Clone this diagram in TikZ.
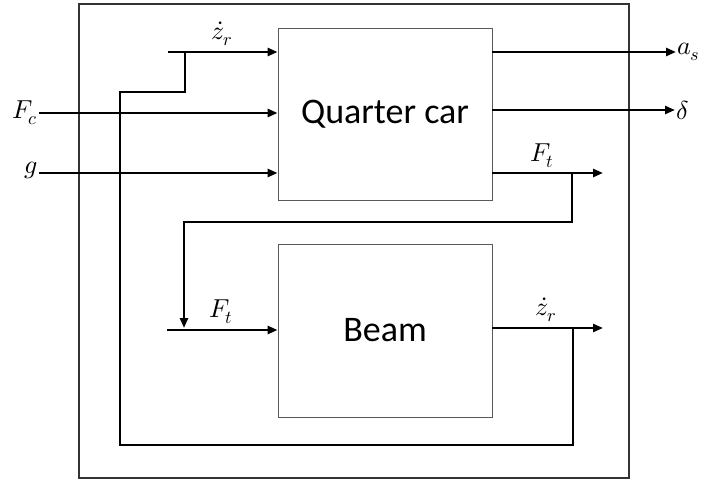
\documentclass[tikz,border=0pt]{standalone}
\usepackage{fontspec}
\usepackage{unicode-math}
\setmathfont{Latin Modern Math}
\setsansfont{Carlito}
\usetikzlibrary{arrows.meta}
\begin{document}
\begin{tikzpicture}[x=1pt,y=-1pt,
  wire/.style={line width=2.6pt},
  arr/.style={wire,-{Triangle[length=10pt,width=8pt]}},
  block/.style={draw=black!65, line width=0.8pt, minimum width=214pt, inner sep=0pt,
    font=\sffamily\fontsize{36}{42}\selectfont},
  lab/.style={font=\fontsize{26}{30}\selectfont, inner sep=1pt}]
\useasboundingbox (0,0) rectangle (707,481);
\draw[black!80, line width=1.5pt] (79,4) rectangle (629,478);
\node[block, minimum height=172pt] (qc) at (385,114) {Quarter car};
\node[block, minimum height=173pt] (beam) at (385,330.5) {Beam};
% input labels
\node[lab, anchor=east] (fc) at (39,113) {$F_c$};
\node[lab, anchor=east] (g) at (39,170) {$g$};
\coordinate (zin) at (168,52);
\coordinate (bin) at (167,330);
% QC inputs
\draw[arr] (zin) -- (qc.west |- zin);
\draw[arr] (fc.east) -- (qc.west |- 0,113);
\draw[arr] (g.east |- 0,173) -- (qc.west |- 0,173);
% QC outputs
\node[lab, anchor=west] (as) at (676,52) {$a_s$};
\node[lab, anchor=west] (dl) at (675,110) {$\delta$};
\coordinate (ftout) at (603,173);
\draw[arr] (qc.east |- as) -- (as.west);
\draw[arr] (qc.east |- dl) -- (dl.west);
\draw[arr] (qc.east |- ftout) -- (ftout);
% feedback Ft
\coordinate (b1) at (572,173);
\coordinate (b2) at (572,222);
\coordinate (b3) at (184,222);
\coordinate (b4) at (184,328);
\draw[wire, -{Triangle[length=10pt,width=8pt]}] (b1) -- (b2) -- (b3) -- (b4);
\draw[arr] (bin) -- (beam.west |- bin);
% beam output
\coordinate (zout) at (603,328);
\draw[arr] (beam.east |- zout) -- (zout);
% feedback z_r
\coordinate (c1) at (573,328);
\coordinate (c2) at (573,445);
\coordinate (c3) at (120,445);
\coordinate (c4) at (120,92);
\coordinate (c5) at (185,92);
\coordinate (c6) at (185,52);
\draw[wire, line join=miter] (c1) -- (c2) -- (c3) -- (c4) -- (c5) -- (c6);
% labels
\node[lab] (lz1) at (222,34) {$\dot z_r$};
\node[lab] (lft1) at (542,156) {$F_t$};
\node[lab] (lft2) at (221,312) {$F_t$};
\node[lab] (lz2) at (546,310) {$\dot z_r$};
\end{tikzpicture}
\end{document}
